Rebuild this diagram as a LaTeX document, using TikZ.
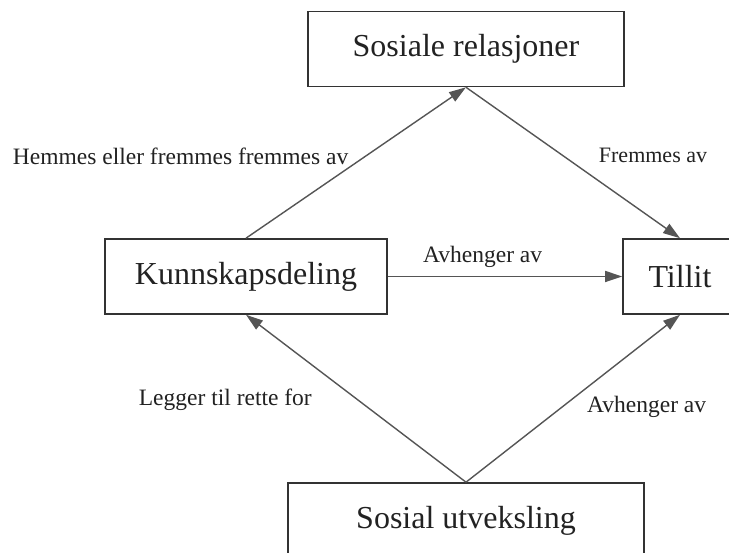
\documentclass[tikz,border=0pt]{standalone}
\usepackage{fontspec}
\setmainfont{Liberation Serif}
\usetikzlibrary{arrows.meta}

\definecolor{boxline}{HTML}{333333}
\definecolor{arrowline}{HTML}{555555}
\definecolor{textgray}{HTML}{222222}

\tikzset{
	concept/.style={draw=boxline, line width=1.6pt, minimum height=75pt, inner sep=0pt, text=textgray, font=\fontsize{32}{38}\selectfont},
	relation/.style={arrowline, line width=1.4pt, -{Triangle[length=17pt, width=11pt]}},
	reltext/.style={anchor=base, text=textgray, inner sep=0pt, font=\fontsize{23.5}{28}\selectfont}
}

\begin{document}
\begin{tikzpicture}[x=1pt, y=1pt]
			\useasboundingbox (0, 0) rectangle (729, 553);
			\clip (0, 0) rectangle (729, 553);
			\fill[white] (0, 0) rectangle (729, 553);
			
			\node[concept, minimum width=316pt] (relasjoner) at (466, 504) {Sosiale relasjoner};
			\node[concept, minimum width=282pt] (deling) at (246, 276.5) {Kunnskapsdeling};
			\node[concept, minimum width=114pt] (tillit) at (680, 276.5) {Tillit};
			\node[concept, minimum width=356pt] (utveksling) at (466, 32.5) {Sosial utveksling};
			
			\draw[relation] (deling.north) -- (relasjoner.south);
			\draw[relation] (relasjoner.south) -- (tillit.north);
			\draw[relation] (deling.east) -- (tillit.west);
			\foreach \to in {deling, tillit} \draw[relation] (utveksling.north) -- (\to.south);
			
			\node[reltext, anchor=base west] (hemmes) at (12.7, 388.7) {Hemmes eller fremmes fremmes av};
			\node[reltext, font=\fontsize{22}{26}\selectfont] (fremmes) at (653, 390.7) {Fremmes av};
			\node[reltext] (avhengerA) at (482.7, 290.7) {Avhenger av};
			\node[reltext] (legger) at (225.3, 147) {Legger til rette for};
			\node[reltext] (avhengerB) at (646.7, 140.7) {Avhenger av};
\end{tikzpicture}
\end{document}
